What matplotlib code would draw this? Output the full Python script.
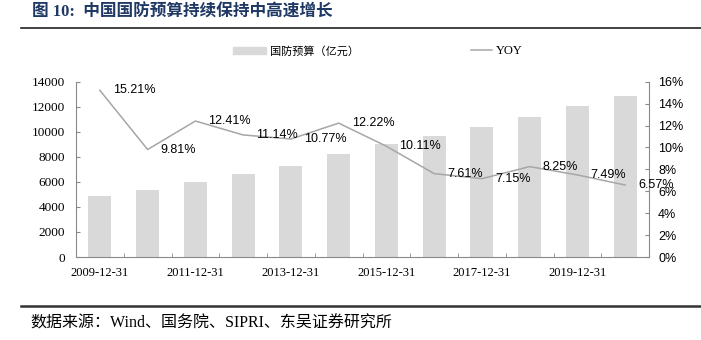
import matplotlib
matplotlib.use('Agg')
import matplotlib.pyplot as plt
from matplotlib.lines import Line2D
from matplotlib.patches import Patch

# 数据
dates = ['2009-12-31', '2010-12-31', '2011-12-31', '2012-12-31', '2013-12-31', '2014-12-31',
         '2015-12-31', '2016-12-31', '2017-12-31', '2018-12-31', '2019-12-31', '2020-12-31']
budget = [4870, 5330, 5970, 6600, 7290, 8200, 9020, 9660, 10360, 11200, 12030, 12830]   # 亿元
yoy = [15.21, 9.81, 12.41, 11.14, 10.77, 12.22, 10.11, 7.61, 7.15, 8.25, 7.49, 6.57]    # %
left_ticks = [0, 2000, 4000, 6000, 8000, 10000, 12000, 14000]
right_ticks = [0, 2, 4, 6, 8, 10, 12, 14, 16]

serif_cn = ['Liberation Serif', 'Noto Sans CJK SC']
sans = ['Liberation Sans', 'DejaVu Sans']
axis_color = '#898989'
bar_color = '#D9D9D9'
line_color = '#A6A6A6'

W, H = 701, 340
fig = plt.figure(figsize=(W / 100, H / 100), dpi=100)
ax = fig.add_axes([76 / W, 1 - 257 / H, (649 - 76) / W, (257 - 81.7) / H])

x = list(range(len(dates)))
ax.bar(x, budget, width=0.48, color=bar_color, zorder=1)
ax.set_xlim(-0.5, len(dates) - 0.5)
ax.set_ylim(0, 14000)
ax.set_yticks(left_ticks)
ax.set_yticklabels([str(v) for v in left_ticks], family=serif_cn, fontsize=9.5)
ax.tick_params(axis='y', direction='in', length=3, color=axis_color, pad=8)

# x轴：标签每两年一个，刻度在柱子之间
ax.set_xticks(x[::2])
ax.set_xticklabels(dates[::2], family=serif_cn, fontsize=9)
ax.tick_params(axis='x', which='major', length=0, pad=7)
ax.set_xticks([i - 0.5 for i in range(len(dates) + 1)], minor=True)
ax.tick_params(axis='x', which='minor', direction='in', length=3, color=axis_color)

for s in ['top', 'right']:
    ax.spines[s].set_visible(False)
for s in ['left', 'bottom']:
    ax.spines[s].set_color(axis_color)

ax2 = ax.twinx()
ax2.plot(x, yoy, color=line_color, lw=1.1, zorder=3)
ax2.set_ylim(0, 16)
ax2.set_yticks(right_ticks)
ax2.set_yticklabels([f'{v}%' for v in right_ticks], family=sans, fontsize=9)
ax2.tick_params(axis='y', direction='in', length=3, color=axis_color, pad=6.5)
for s in ['top', 'left', 'bottom']:
    ax2.spines[s].set_visible(False)
ax2.spines['right'].set_color(axis_color)

for i, v in enumerate(yoy):
    ax2.annotate(f'{v:.2f}%', (i, v), xytext=(9.4, 0), textcoords='offset points',
                 ha='left', va='center', fontsize=9, family=sans, color='black')

# 图例
fig.legend(handles=[Patch(color=bar_color)], labels=['国防预算（亿元）'],
           loc='center left', bbox_to_anchor=(233 / W, 1 - 51 / H), frameon=False,
           handlelength=3.0, handleheight=0.65, handletextpad=0.35, borderpad=0, borderaxespad=0,
           prop={'family': serif_cn, 'size': 8})
fig.legend(handles=[Line2D([], [], color=line_color, lw=1.1)], labels=['YOY'],
           loc='center left', bbox_to_anchor=(471 / W, 1 - 51 / H), frameon=False,
           handlelength=1.7, handletextpad=0.3, borderpad=0, borderaxespad=0,
           prop={'family': serif_cn, 'size': 9})

# 标题和来源
fig.text(32 / W, 1 - 13 / H, '图 10:  中国国防预算持续保持中高速增长', fontsize=12,
         fontweight='bold', color='#1F3864', family=serif_cn, va='center')
fig.add_artist(Line2D([21 / W, 1], [1 - 28 / H] * 2, color='#222222', lw=1.2,
                      transform=fig.transFigure))
fig.add_artist(Line2D([21 / W, 1], [1 - 306 / H] * 2, color='#333333', lw=1.8,
                      transform=fig.transFigure))
fig.text(30 / W, 1 - 324 / H, '数据来源：Wind、国务院、SIPRI、东吴证券研究所', fontsize=11.5,
         family=serif_cn, va='center')

fig.savefig('out.png', dpi=100)
